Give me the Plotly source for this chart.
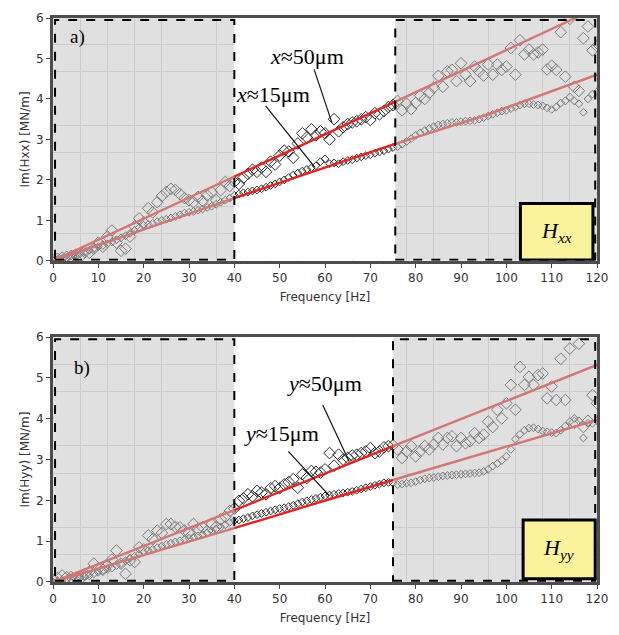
import plotly.graph_objects as go

# ---------------- data ----------------
freq = list(range(0, 121))

hxx_50 = [0.02, 0.05, 0.08, 0.10, 0.12, 0.15, 0.10, 0.22, 0.20, 0.30,
          0.45, 0.35, 0.60, 0.75, 0.45, 0.25, 0.30, 0.60, 0.85, 1.05,
          0.95, 1.30, 1.20, 1.45, 1.60, 1.70, 1.78, 1.75, 1.65, 1.55,
          1.50, 1.45, 1.58, 1.48, 1.62, 1.70, 1.50, 1.75, 1.95, 1.85,
          1.95, 1.90, 2.05, 2.15, 2.25, 2.20, 2.30, 2.20, 2.45, 2.38,
          2.60, 2.72, 2.70, 2.55, 2.90, 3.15, 3.05, 3.25, 3.10, 3.20,
          3.15, 3.00, 3.50, 3.20, 3.30, 3.38, 3.42, 3.45, 3.50, 3.55,
          3.48, 3.65, 3.62, 3.70, 3.80, 3.85, 3.95, 3.72, 3.88, 3.75,
          3.90, 4.08, 4.00, 4.15, 4.28, 4.57, 4.30, 4.68, 4.72, 4.44,
          4.88, 4.60, 4.44, 4.80, 4.68, 4.58, 4.85, 4.60, 4.85, 4.72,
          4.80, 5.26, 4.60, 5.45, 5.10, 5.22, 5.10, 5.15, 5.22, 4.73,
          4.82, 4.72, 5.65, 4.55, 5.98, 4.30, 4.20, 5.50, 5.79, 5.20,
          5.30]

hxx_15 = [0.00, 0.03, 0.06, 0.08, 0.12, 0.15, 0.18, 0.22, 0.26, 0.30,
          0.35, 0.38, 0.42, 0.47, 0.52, 0.57, 0.62, 0.68, 0.75, 0.82,
          0.88, 0.90, 0.93, 0.97, 1.00, 1.03, 1.06, 1.10, 1.14, 1.18,
          1.20, 1.22, 1.25, 1.28, 1.32, 1.35, 1.40, 1.45, 1.50, 1.55,
          1.62, 1.65, 1.68, 1.70, 1.73, 1.75, 1.78, 1.82, 1.86, 1.90,
          1.95, 2.00, 2.06, 2.12, 2.17, 2.22, 2.26, 2.30, 2.35, 2.45,
          2.52, 2.40, 2.42, 2.40, 2.45, 2.48, 2.50, 2.54, 2.57, 2.60,
          2.62, 2.66, 2.69, 2.72, 2.76, 2.80, 2.82, 2.88, 2.95, 3.02,
          3.10, 3.16, 3.22, 3.27, 3.32, 3.36, 3.38, 3.40, 3.42, 3.42,
          3.44, 3.45, 3.46, 3.47, 3.50, 3.54, 3.58, 3.62, 3.66, 3.70,
          3.72, 3.76, 3.80, 3.85, 3.88, 3.88, 3.86, 3.85, 3.83, 3.78,
          3.74, 3.80, 3.90, 3.95, 4.05, 3.95, 3.88, 3.67, 4.00, 4.12,
          4.18]

hyy_50 = [0.05, 0.10, 0.16, 0.12, 0.12, 0.10, 0.08, 0.20, 0.25, 0.45,
          0.33, 0.30, 0.41, 0.55, 0.77, 0.45, 0.20, 0.53, 0.49, 0.85,
          0.80, 1.14, 1.05, 1.26, 1.20, 1.42, 1.42, 1.35, 1.34, 1.26,
          1.20, 1.42, 1.30, 1.34, 1.25, 1.42, 1.35, 1.54, 1.60, 1.74,
          1.80, 1.99, 2.05, 2.15, 2.10, 2.23, 2.19, 2.15, 2.30, 2.35,
          2.30, 2.39, 2.45, 2.52, 2.31, 2.64, 2.55, 2.72, 2.70, 2.68,
          2.76, 3.16, 2.85, 3.12, 3.00, 3.04, 3.10, 3.12, 3.16, 3.20,
          3.28, 3.16, 3.20, 3.30, 3.33, 3.35, 3.25, 3.04, 3.20, 3.33,
          3.08, 3.20, 3.33, 3.25, 3.37, 3.53, 3.37, 3.53, 3.57, 3.33,
          3.53, 3.40, 3.45, 3.65, 3.53, 3.61, 3.93, 3.80, 4.22, 4.01,
          4.38, 4.83, 4.22, 5.27, 4.83, 5.03, 4.83, 5.07, 5.11, 4.50,
          4.79, 4.46, 5.47, 4.46, 5.72, 3.90, 5.84, 3.80, 3.95, 4.58,
          4.38]

hyy_15 = [0.00, 0.02, 0.04, 0.05, 0.07, 0.08, 0.10, 0.12, 0.15, 0.20,
          0.24, 0.28, 0.31, 0.34, 0.40, 0.45, 0.52, 0.58, 0.63, 0.68,
          0.73, 0.77, 0.80, 0.84, 0.88, 0.92, 0.95, 0.98, 1.01, 1.04,
          1.07, 1.10, 1.13, 1.16, 1.20, 1.25, 1.30, 1.35, 1.40, 1.46,
          1.50, 1.52, 1.55, 1.58, 1.62, 1.65, 1.68, 1.71, 1.74, 1.77,
          1.80, 1.82, 1.85, 1.88, 1.92, 1.96, 1.99, 2.02, 2.05, 2.08,
          2.11, 2.13, 2.15, 2.17, 2.18, 2.20, 2.22, 2.25, 2.28, 2.31,
          2.34, 2.37, 2.40, 2.43, 2.44, 2.42, 2.39, 2.40, 2.42, 2.43,
          2.46, 2.50, 2.53, 2.55, 2.56, 2.58, 2.60, 2.61, 2.62, 2.63,
          2.64, 2.65, 2.66, 2.67, 2.68, 2.71, 2.76, 2.84, 2.90, 2.98,
          3.08, 3.25, 3.50, 3.62, 3.72, 3.77, 3.78, 3.75, 3.70, 3.68,
          3.66, 3.65, 3.72, 3.82, 3.93, 4.01, 3.95, 3.53, 3.89, 3.89,
          3.95]

# fitted (red) lines, read at a few frequencies
fit_x_top = [0, 40, 75, 120]
fit_xx_50 = [0.0, 2.08, 3.90, 6.25]
fit_x_top15 = [0, 40, 75, 96, 120]
fit_xx_15 = [0.0, 1.55, 2.87, 3.62, 4.60]
fit_x_bot = [0, 40, 75, 120]
fit_yy_50 = [0.0, 1.76, 3.33, 5.32]
fit_yy_15 = [0.0, 1.32, 2.50, 3.97]

# shaded frequency bands
band_top = [(0, 40), (75.5, 120)]
band_bot = [(0, 40), (75, 120)]

# ---------------- figure ----------------
fig = go.Figure()

RED = "rgb(228,35,35)"
MK50 = dict(symbol="diamond-open", size=9, color="#2a2a2a", line=dict(width=1))
MK15 = dict(symbol="diamond-open", size=6, color="#2a2a2a", line=dict(width=1))

for xa, ya, s50, s15 in [("x", "y", hxx_50, hxx_15), ("x2", "y2", hyy_50, hyy_15)]:
    fig.add_trace(go.Scatter(x=freq, y=s50, mode="markers", marker=MK50,
                             xaxis=xa, yaxis=ya, showlegend=False, cliponaxis=True))
    fig.add_trace(go.Scatter(x=freq, y=s15, mode="markers", marker=MK15,
                             xaxis=xa, yaxis=ya, showlegend=False, cliponaxis=True))

for xa, ya, fx, fy in [("x", "y", fit_x_top, fit_xx_50), ("x", "y", fit_x_top15, fit_xx_15),
                       ("x2", "y2", fit_x_bot, fit_yy_50), ("x2", "y2", fit_x_bot, fit_yy_15)]:
    fig.add_trace(go.Scatter(x=fx, y=fy, mode="lines", line=dict(color=RED, width=2.4),
                             xaxis=xa, yaxis=ya, showlegend=False))

shapes = []
for xr, yr, bands in [("x", "y", band_top), ("x2", "y2", band_bot)]:
    # white middle region hides the grid
    shapes.append(dict(type="rect", xref=xr, yref=yr, x0=bands[0][1], x1=bands[1][0],
                       y0=0, y1=6, fillcolor="white", line=dict(width=0), layer="between"))
    for b0, b1 in bands:
        shapes.append(dict(type="rect", xref=xr, yref=yr, x0=b0, x1=b1, y0=0, y1=6,
                           fillcolor="rgba(196,196,196,0.52)", line=dict(width=0), layer="above"))
    for b0, b1 in bands:
        shapes.append(dict(type="rect", xref=xr, yref=yr, x0=max(b0, 0.45), x1=min(b1, 119.6),
                           y0=0.03, y1=5.95, fillcolor="rgba(0,0,0,0)",
                           line=dict(color="black", width=2, dash="dash"), layer="above"))

# label boxes
shapes.append(dict(type="rect", xref="x", yref="y", x0=103.1, x1=119.1, y0=0.02, y1=1.42,
                   fillcolor="#fbf39c", line=dict(color="black", width=3), layer="above"))
shapes.append(dict(type="rect", xref="x2", yref="y2", x0=103.7, x1=119.6, y0=0.08, y1=1.52,
                   fillcolor="#fbf39c", line=dict(color="black", width=3), layer="above"))

# pointer lines
for xr, yr, x0, y0, x1, y1 in [("x", "y", 57.6, 4.73, 61.5, 3.42), ("x", "y", 46.9, 3.83, 57.7, 2.32),
                               ("x2", "y2", 59.5, 4.34, 65.3, 2.96), ("x2", "y2", 51.9, 3.20, 61.0, 2.11)]:
    shapes.append(dict(type="line", xref=xr, yref=yr, x0=x0, y0=y0, x1=x1, y1=y1,
                       line=dict(color="#111", width=1.2), layer="above"))

SERIF = "Liberation Serif, Times New Roman, serif"
ann = []
def text(xr, yr, x, y, t, size):
    ann.append(dict(xref=xr, yref=yr, x=x, y=y, text=t, showarrow=False,
                    font=dict(family=SERIF, size=size, color="black")))

text("x", "y", 5.4, 5.54, "a)", 19)
text("x2", "y2", 6.3, 5.25, "b)", 19)
text("x", "y", 56.1, 5.05, "<i>x</i>≈50μm", 22)
text("x", "y", 48.6, 4.12, "<i>x</i>≈15μm", 22)
text("x2", "y2", 59.9, 4.87, "<i>y</i>≈50μm", 22)
text("x2", "y2", 50.3, 3.65, "<i>y</i>≈15μm", 22)
text("x", "y", 111.1, 0.72, "<i>H</i><sub><i>xx</i></sub>", 22)
text("x2", "y2", 111.6, 0.80, "<i>H</i><sub><i>yy</i></sub>", 22)

AXFONT = dict(family="DejaVu Sans", size=12, color="#333")
def xaxis(anchor):
    return dict(anchor=anchor, range=[0, 120], dtick=10, tick0=0, ticks="outside", ticklen=4,
                tickcolor="#444", showline=True, mirror=True, linewidth=3, linecolor="#4d4d4d",
                showgrid=False, zeroline=False, tickfont=AXFONT,
                minor=dict(dtick=6, tick0=0, showgrid=True, gridcolor="#d2d2d2", gridwidth=1),
                title=dict(text="Frequency [Hz]", font=AXFONT, standoff=9))
def yaxis(anchor, dom, title):
    return dict(anchor=anchor, domain=dom, range=[0, 6], dtick=1, ticks="outside", ticklen=4,
                tickcolor="#444", showline=True, mirror=True, linewidth=3, linecolor="#4d4d4d",
                showgrid=False, zeroline=False, tickfont=AXFONT,
                minor=dict(dtick=2/3, tick0=0, showgrid=True, gridcolor="#d2d2d2", gridwidth=1),
                title=dict(text=title, font=AXFONT, standoff=4))

fig.update_layout(
    width=619, height=635,
    margin=dict(l=53, r=11, t=13, b=53),
    paper_bgcolor="white", plot_bgcolor="white",
    xaxis=xaxis("y"), yaxis=yaxis("x", [0.5694, 1.0], "Im(Hxx) [MN/m]"),
    xaxis2=xaxis("y2"), yaxis2=yaxis("x2", [0.0, 0.4341], "Im(Hyy) [MN/m]"),
    shapes=shapes, annotations=ann,
)

fig.write_html("out.html")
